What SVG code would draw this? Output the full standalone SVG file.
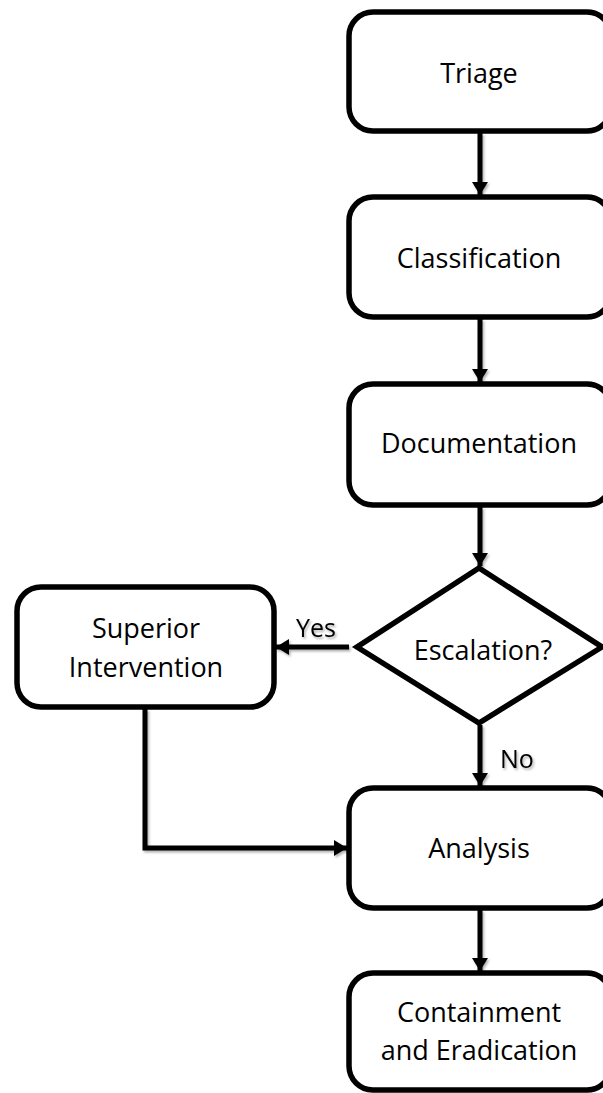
<svg xmlns="http://www.w3.org/2000/svg" width="603" height="1093" viewBox="0 0 603 1093">
  <defs>
    <style>
      .box { fill: #ffffff; stroke: #000000; stroke-width: 5.5; }
      .lbl { font-family: "Open Sans", "Noto Sans", sans-serif; font-size: 27px; fill: #000000; text-anchor: middle; }
      .edge { fill: none; stroke: #000000; stroke-width: 5; }
      .edge-lbl { font-family: "Open Sans", "Noto Sans", sans-serif; font-size: 25px; fill: #000000; }
    </style>
    <marker id="arrow" viewBox="0 0 13 16" refX="13" refY="8" markerWidth="13" markerHeight="16" markerUnits="userSpaceOnUse" orient="auto">
      <path d="M0,0 L13,8 L0,16 Z" fill="#000000"/>
    </marker>
    <filter id="soft" x="-20%" y="-20%" width="140%" height="140%">
      <feDropShadow dx="1.5" dy="2" stdDeviation="1.2" flood-color="#000000" flood-opacity="0.3"/>
    </filter>
  </defs>

  <rect width="603" height="1093" fill="#ffffff"/>

  <!-- connectors -->
  <g id="connectors" filter="url(#soft)">
    <line class="edge" x1="480" y1="133" x2="480" y2="195" marker-end="url(#arrow)"/>
    <line class="edge" x1="480" y1="319" x2="480" y2="382" marker-end="url(#arrow)"/>
    <line class="edge" x1="480" y1="507" x2="480" y2="566" marker-end="url(#arrow)"/>
    <line class="edge" x1="349" y1="647" x2="276" y2="647" marker-end="url(#arrow)"/>
    <line class="edge" x1="480" y1="725" x2="480" y2="786" marker-end="url(#arrow)"/>
    <polyline class="edge" points="145,709 145,848 347,848" marker-end="url(#arrow)"/>
    <line class="edge" x1="480" y1="910" x2="480" y2="971" marker-end="url(#arrow)"/>
    <text class="edge-lbl" x="296" y="637">Yes</text>
    <text class="edge-lbl" x="500" y="768">No</text>
  </g>

  <!-- process nodes -->
  <g id="triage">
    <rect class="box" x="349" y="12" width="262" height="119" rx="24"/>
    <text class="lbl" x="479" y="83">Triage</text>
  </g>
  <g id="classification">
    <rect class="box" x="349" y="197" width="262" height="120" rx="24"/>
    <text class="lbl" x="479" y="268">Classification</text>
  </g>
  <g id="documentation">
    <rect class="box" x="349" y="384" width="262" height="121" rx="24"/>
    <text class="lbl" x="479" y="453">Documentation</text>
  </g>
  <g id="escalation">
    <polygon class="box" points="479,568 602,647 479,723 357,647"/>
    <text class="lbl" x="483" y="660">Escalation?</text>
  </g>
  <g id="superior-intervention">
    <rect class="box" x="17" y="587" width="257" height="120" rx="24"/>
    <text class="lbl" x="146" y="638">Superior</text>
    <text class="lbl" x="146" y="677">Intervention</text>
  </g>
  <g id="analysis">
    <rect class="box" x="349" y="788" width="262" height="120" rx="24"/>
    <text class="lbl" x="479" y="858">Analysis</text>
  </g>
  <g id="containment">
    <rect class="box" x="349" y="973" width="262" height="117" rx="24"/>
    <text class="lbl" x="479" y="1022">Containment</text>
    <text class="lbl" x="479" y="1060">and Eradication</text>
  </g>
</svg>
